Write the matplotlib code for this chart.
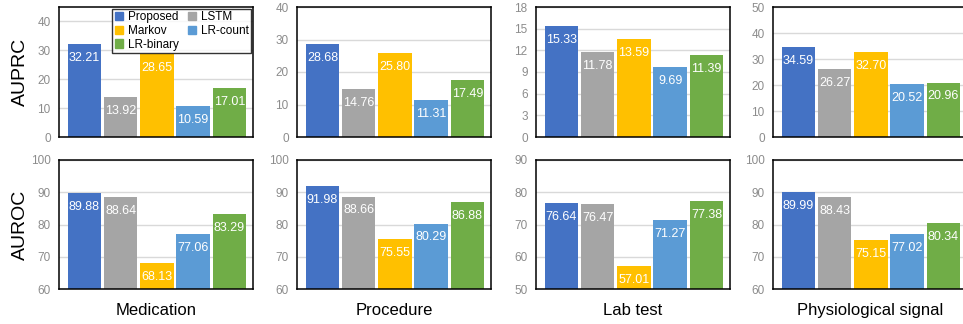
import numpy as np
import matplotlib
matplotlib.use('Agg')
import matplotlib.pyplot as plt
from matplotlib.patches import Patch

plt.rcParams['font.family'] = ['Liberation Sans', 'DejaVu Sans']

methods = ['Proposed', 'LSTM', 'Markov', 'LR-count', 'LR-binary']
colors = ['#4472C4', '#A5A5A5', '#FFC000', '#5B9BD5', '#70AD47']
tasks = ['Medication', 'Procedure', 'Lab test', 'Physiological signal']

auprc = [
    [32.21, 13.92, 28.65, 10.59, 17.01],
    [28.68, 14.76, 25.80, 11.31, 17.49],
    [15.33, 11.78, 13.59, 9.69, 11.39],
    [34.59, 26.27, 32.70, 20.52, 20.96],
]
auroc = [
    [89.88, 88.64, 68.13, 77.06, 83.29],
    [91.98, 88.66, 75.55, 80.29, 86.88],
    [76.64, 76.47, 57.01, 71.27, 77.38],
    [89.99, 88.43, 75.15, 77.02, 80.34],
]
auprc_lims = [(0, 45, 10), (0, 40, 10), (0, 18, 3), (0, 50, 10)]
auroc_lims = [(60, 100, 10), (60, 100, 10), (50, 90, 10), (60, 100, 10)]

W, H = 963, 324
fig = plt.figure(figsize=(W / 100, H / 100), dpi=100)

lefts = [59, 297, 536, 773]
aw = 194
rows = [(7, 137), (160, 289)]


def draw(ax, vals, lims):
    lo, hi, step = lims
    x = np.arange(len(vals))
    ax.set_axisbelow(True)
    ax.grid(axis='y', color='#d9d9d9', linewidth=1)
    ax.bar(x, np.array(vals) - lo, bottom=lo, width=0.92, color=colors)
    for xi, v in zip(x, vals):
        ax.annotate(f'{v:.2f}', (xi, v), xytext=(0, -10), textcoords='offset points',
                    ha='center', va='center', color='white', fontsize=9)
    ax.set_ylim(lo, hi)
    ax.set_yticks(np.arange(lo, hi + 0.01, step))
    ax.set_xlim(-0.7, 4.65)
    ax.set_xticks([])
    ax.tick_params(axis='y', length=0, pad=6, labelsize=8.5, labelcolor='#8c8c8c')
    for s in ax.spines.values():
        s.set_color('black')
        s.set_linewidth(1.1)


for r, (data, lims_all) in enumerate([(auprc, auprc_lims), (auroc, auroc_lims)]):
    top, bot = rows[r]
    for i in range(4):
        ax = fig.add_axes([lefts[i] / W, 1 - bot / H, aw / W, (bot - top) / H])
        draw(ax, data[i], lims_all[i])
        if i == 0:
            ax.set_ylabel('AUPRC' if r == 0 else 'AUROC', fontsize=14)
            ax.yaxis.set_label_coords(-30 / aw, 0.5)
        if r == 0 and i == 0:
            order = [0, 2, 4, 1, 3]
            handles = [Patch(color=colors[k], label=methods[k]) for k in order]
            leg = ax.legend(handles=handles, ncol=2, loc='upper right', fontsize=8.5,
                            frameon=True, fancybox=False, borderaxespad=0.15,
                            handlelength=0.7, handleheight=0.7, handletextpad=0.4,
                            columnspacing=0.8, labelspacing=0.15, borderpad=0.2)
            leg.get_frame().set_edgecolor('black')
            leg.get_frame().set_linewidth(1.0)
        if r == 1:
            ax.set_xlabel(tasks[i], fontsize=12, labelpad=10)

fig.savefig('out.png', dpi=100)
